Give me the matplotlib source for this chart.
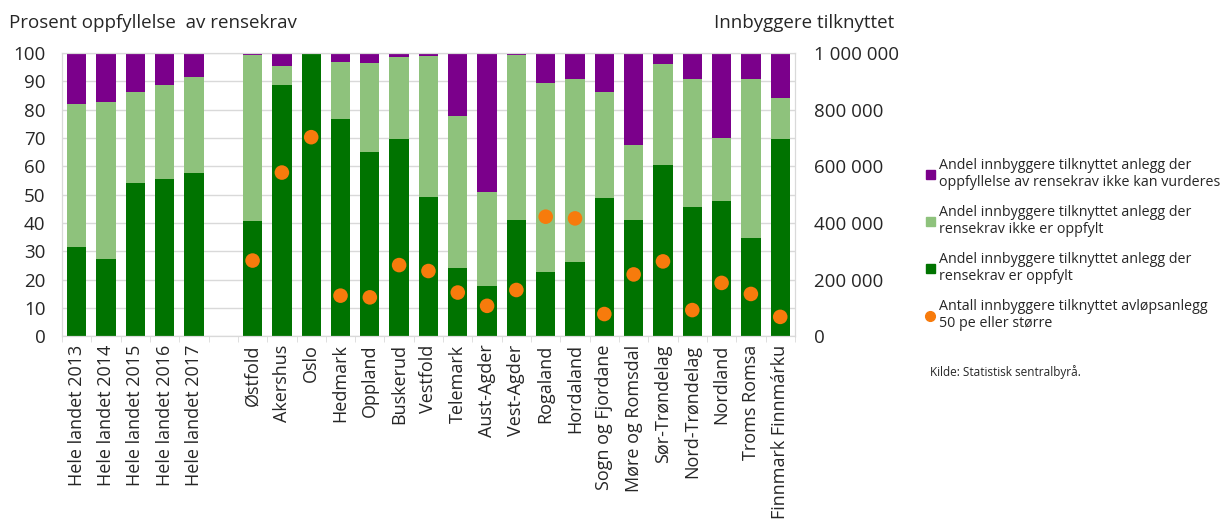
import numpy as np
import matplotlib.pyplot as plt
from matplotlib.lines import Line2D
from matplotlib.patches import Patch
from matplotlib.ticker import FuncFormatter, FixedLocator

plt.rcParams['font.family'] = ['Open Sans', 'DejaVu Sans']

categories = ["Hele landet 2013", "Hele landet 2014", "Hele landet 2015",
              "Hele landet 2016", "Hele landet 2017", "",
              "Østfold", "Akershus", "Oslo", "Hedmark", "Oppland", "Buskerud",
              "Vestfold", "Telemark", "Aust-Agder", "Vest-Agder", "Rogaland",
              "Hordaland", "Sogn og Fjordane", "Møre og Romsdal", "Sør-Trøndelag",
              "Nord-Trøndelag", "Nordland", "Troms Romsa", "Finnmark Finnmárku"]

# prosent: rensekrav oppfylt
oppfylt = [31.6, 27.1, 54.0, 55.5, 57.5, 0,
           40.7, 88.6, 100.0, 76.7, 65.0, 69.6, 49.1, 24.2, 17.7, 41.0, 22.6,
           26.2, 48.7, 41.0, 60.5, 45.8, 47.6, 34.7, 69.6]
# prosent: rensekrav ikke oppfylt
ikke_oppfylt = [50.5, 55.8, 32.4, 33.1, 33.9, 0,
                58.8, 6.9, 0.0, 20.2, 31.5, 29.0, 50.0, 53.6, 33.2, 58.5, 66.9,
                64.7, 37.4, 26.5, 35.5, 45.1, 22.3, 56.2, 14.4]
# prosent: kan ikke vurderes
ikke_vurdert = [17.9, 17.1, 13.6, 11.4, 8.6, 0,
                0.5, 4.5, 0.0, 3.1, 3.5, 1.4, 0.9, 22.2, 49.1, 0.5, 10.5,
                9.1, 13.9, 32.5, 4.0, 9.1, 30.1, 9.1, 16.0]
# antall innbyggere tilknyttet anlegg 50 pe eller større
innbyggere = [np.nan, np.nan, np.nan, np.nan, np.nan, np.nan,
              267000, 578000, 703000, 143000, 137000, 251000, 230000, 154000,
              107000, 163000, 422000, 416000, 78000, 218000, 264000, 92000,
              188000, 149000, 68000]

c_dark = "#007300"
c_light = "#8ec27c"
c_purple = "#7b008b"
c_orange = "#f77b0c"
grid_c = "#d9d9d9"
txt_c = "#262626"

fig = plt.figure(figsize=(12.21, 5.26), dpi=100)
ax = fig.add_axes([0.0508, 0.361, 0.6002, 0.538])

x = np.arange(len(categories))
bw = 0.66
ax.bar(x, oppfylt, bw, color=c_dark, zorder=2)
ax.bar(x, ikke_oppfylt, bw, bottom=oppfylt, color=c_light, zorder=2)
bottom2 = np.array(oppfylt) + np.array(ikke_oppfylt)
ax.bar(x, ikke_vurdert, bw, bottom=bottom2, color=c_purple, zorder=2)

ax.set_xlim(-0.5, len(categories) - 0.5)
ax.set_ylim(0, 100)
ax.set_yticks(range(0, 101, 10))
ax.yaxis.grid(True, color=grid_c, lw=1, zorder=0)
ax.set_xticks(x)
ax.set_xticklabels(categories, rotation=90, fontsize=13, color=txt_c)
ax.xaxis.set_minor_locator(FixedLocator(np.arange(-0.5, len(categories), 1)))
ax.tick_params(axis='x', which='major', length=0, pad=6)
ax.tick_params(axis='x', which='minor', length=4, color=grid_c)
ax.tick_params(axis='y', length=0, labelsize=13.5, labelcolor=txt_c, pad=12)
for s in ax.spines.values():
    s.set_color(grid_c)

ax2 = ax.twinx()
ax2.scatter(x, innbyggere, s=110, color=c_orange, zorder=3, edgecolors='none')
ax2.set_ylim(0, 1000000)
ax2.set_yticks(range(0, 1000001, 200000))
ax2.yaxis.set_major_formatter(FuncFormatter(lambda v, p: f"{int(v):,}".replace(",", " ")))
ax2.tick_params(axis='y', length=0, labelsize=13.5, labelcolor=txt_c, pad=14)
for s in ax2.spines.values():
    s.set_color(grid_c)

fig.text(0.007, 0.957, "Prosent oppfyllelse  av rensekrav", fontsize=13.5, color=txt_c, va='center')
fig.text(0.585, 0.957, "Innbyggere tilknyttet", fontsize=13.5, color=txt_c, va='center')

handles = [
    Patch(color=c_purple),
    Patch(color=c_light),
    Patch(color=c_dark),
    Line2D([], [], marker='o', ls='none', color=c_orange, markersize=7),
]
labels = [
    "Andel innbyggere tilknyttet anlegg der\noppfyllelse av rensekrav ikke kan vurderes",
    "Andel innbyggere tilknyttet anlegg der\nrensekrav ikke er oppfylt",
    "Andel innbyggere tilknyttet anlegg der\nrensekrav er oppfylt",
    "Antall innbyggere tilknyttet avløpsanlegg\n50 pe eller større",
]
fig.legend(handles, labels, loc='upper left', bbox_to_anchor=(0.748, 0.725),
           frameon=False, fontsize=10.3, handlelength=0.6, handleheight=0.6,
           handletextpad=0.3, labelspacing=1.05, labelcolor=txt_c)

fig.text(0.762, 0.285, "Kilde: Statistisk sentralbyrå.", fontsize=8.5, color=txt_c)

fig.savefig("out.png", dpi=100)
